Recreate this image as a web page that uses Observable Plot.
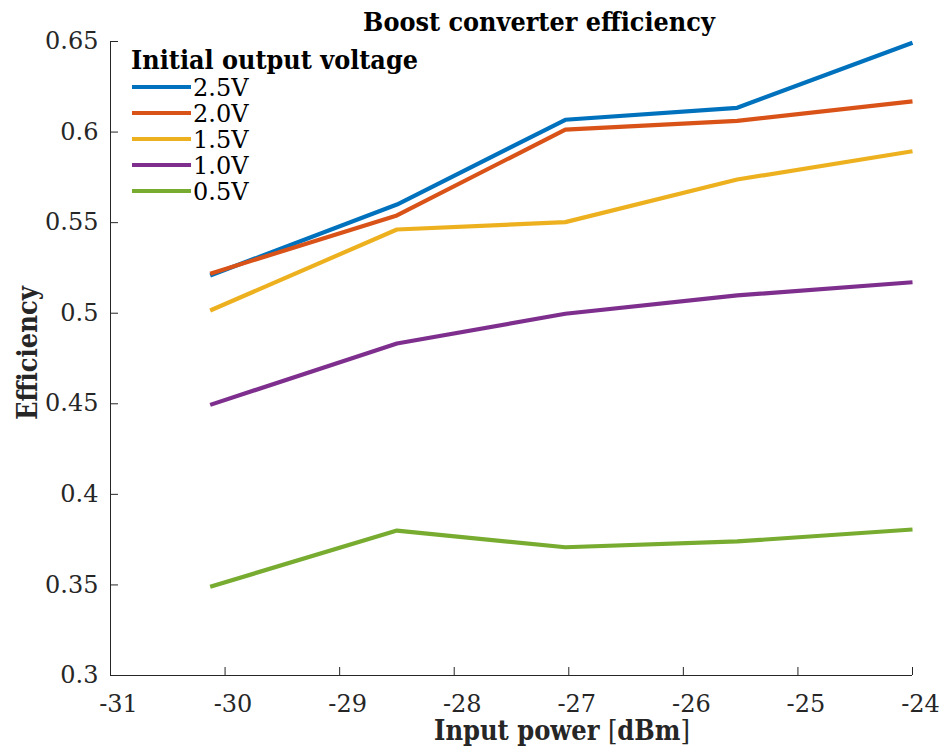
<!DOCTYPE html>
<html>
<head>
<meta charset="utf-8">
<script src="https://cdn.jsdelivr.net/npm/d3@7"></script>
<script src="https://cdn.jsdelivr.net/npm/@observablehq/plot@0.6"></script>
<style>
  body { margin: 0; background: #fff; }
  svg { display: block; }
</style>
</head>
<body>
<div id="chart"></div>
<script>
// Input power sweep (dBm) and measured efficiency for each initial output voltage
const inputPower = [-30.13, -28.5, -27.03, -25.53, -24];
const seriesNames = ["2.5V", "2.0V", "1.5V", "1.0V", "0.5V"];
const eff25 = [0.5208, 0.5600, 0.6068, 0.6134, 0.6493];
const eff20 = [0.5218, 0.5540, 0.6014, 0.6062, 0.6169];
const eff15 = [0.5015, 0.5462, 0.5503, 0.5738, 0.5894];
const eff10 = [0.4494, 0.4833, 0.4997, 0.5098, 0.5171];
const eff05 = [0.3490, 0.3800, 0.3708, 0.3740, 0.3806];
const seriesColors = ["#0072BD", "#D95319", "#EDB120", "#7E2F8E", "#77AC30"];
const xTicks = [-31, -30, -29, -28, -27, -26, -25, -24];
const yTicks = [0.3, 0.35, 0.4, 0.45, 0.5, 0.55, 0.6, 0.65];

const titleText = "Boost converter efficiency";
const legendTitle = "Initial output voltage";
const yLabel = "Efficiency";

const FONT = "'DejaVu Serif', 'Liberation Serif', serif";
const FONT_BOLD = "'DejaVu Serif Condensed', 'DejaVu Serif', 'Liberation Serif', serif";
const INK = "#262626";

const efficiency = [eff25, eff20, eff15, eff10, eff05];
const rows = seriesNames.flatMap((name, i) =>
  inputPower.map((p, j) => ({series: name, power: p, eff: efficiency[i][j]}))
);

const chart = Plot.plot({
  width: 945,
  height: 749,
  marginLeft: 110,
  marginRight: 33,
  marginTop: 41,
  marginBottom: 74,
  style: {fontFamily: FONT, fontSize: "24px", color: INK, background: "#fff"},
  x: {domain: [-31, -24]},
  y: {domain: [0.3, 0.65]},
  color: {domain: seriesNames, range: seriesColors},
  marks: [
    // tick labels
    Plot.axisX(xTicks, {tickSize: 0, tickPadding: 19, dx: 8, tickFormat: d => String(d), label: null, fontSize: 24, fill: INK}),
    Plot.axisY(yTicks, {tickSize: 0, tickPadding: 12, tickFormat: d => String(d), label: null, fontSize: 24, fill: INK}),
    // inward ticks
    Plot.axisX(xTicks, {tickSize: -8, tickFormat: () => "", label: null, stroke: INK, strokeWidth: 1}),
    Plot.axisY(yTicks, {tickSize: -8, tickFormat: () => "", label: null, stroke: INK, strokeWidth: 1}),
    // axis lines (left and bottom only)
    Plot.ruleX([-31], {stroke: INK, strokeWidth: 1}),
    Plot.ruleY([0.3], {stroke: INK, strokeWidth: 1}),
    Plot.line(rows, {
      x: "power", y: "eff", z: "series", stroke: "series",
      strokeWidth: 4.2, strokeLinecap: "butt", strokeLinejoin: "round"
    })
  ]
});

document.getElementById("chart").appendChild(chart);

const svg = d3.select(chart);
const [xLeft, xRight] = chart.scale("x").range;
const [yBottom, yTop] = chart.scale("y").range;
const color = chart.scale("color");

// scale a text element so its rendered width equals the given width
function fitWidth(sel, width) {
  const node = sel.node();
  const size = parseFloat(sel.attr("font-size"));
  const w = node.getComputedTextLength();
  sel.attr("font-size", (size * width / w).toFixed(2));
  return sel;
}

// title
fitWidth(svg.append("text")
  .attr("x", 539).attr("y", 31)
  .attr("text-anchor", "middle")
  .attr("font-family", FONT_BOLD).attr("font-size", 24).attr("font-weight", "bold")
  .attr("fill", "#000")
  .text(titleText), 352);

// y axis label
fitWidth(svg.append("text")
  .attr("transform", `translate(37,${(yTop + yBottom) / 2 - 5}) rotate(-90)`)
  .attr("text-anchor", "middle")
  .attr("font-family", FONT_BOLD).attr("font-size", 24).attr("font-weight", "bold")
  .attr("fill", INK)
  .text(yLabel), 134);

// x axis label
const xl = svg.append("text")
  .attr("x", 562).attr("y", 740)
  .attr("text-anchor", "middle")
  .attr("font-family", FONT_BOLD).attr("font-size", 24)
  .attr("fill", INK);
xl.append("tspan").attr("font-weight", "bold").text("Input power ");
xl.append("tspan").text("[");
xl.append("tspan").attr("font-weight", "bold").text("dBm");
xl.append("tspan").text("]");
fitWidth(xl, 256);

// legend (inside the frame, top left)
const legend = svg.append("g").attr("font-family", FONT).attr("text-anchor", "start");
fitWidth(legend.append("text")
  .attr("x", xLeft + 21).attr("y", yTop + 27.5)
  .attr("font-family", FONT_BOLD)
  .attr("font-size", 24).attr("font-weight", "bold")
  .attr("fill", "#000")
  .text(legendTitle), 287);

seriesNames.forEach((name, i) => {
  const cy = yTop + 46 + i * 26;
  legend.append("line")
    .attr("x1", xLeft + 22).attr("x2", xLeft + 81)
    .attr("y1", cy).attr("y2", cy)
    .attr("stroke", color.apply(name)).attr("stroke-width", 4.2);
  legend.append("text")
    .attr("x", xLeft + 83).attr("y", cy + 8.5)
    .attr("font-size", 24).attr("fill", "#000")
    .text(name);
});
</script>
</body>
</html>
